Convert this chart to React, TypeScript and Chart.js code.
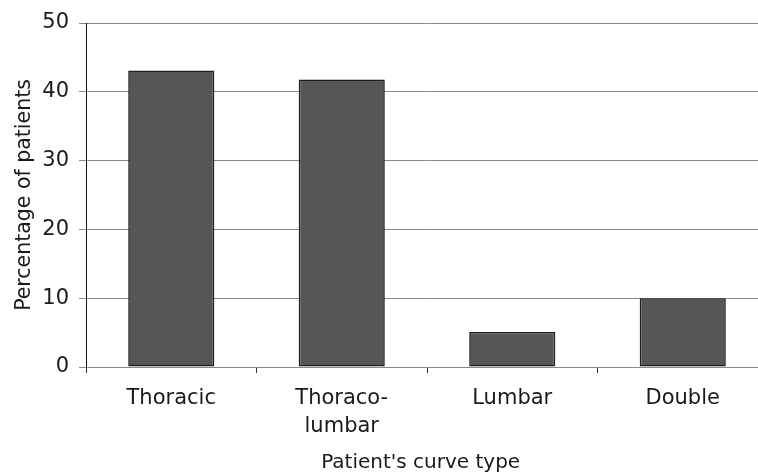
import React, { useEffect, useRef } from "react";
import { Chart, registerables } from "chart.js";

Chart.register(...registerables);

const categories: (string | string[])[] = ["Thoracic", ["Thoraco-", "lumbar"], "Lumbar", "Double"];
const percentages: number[] = [43.1, 41.8, 5.1, 10.0];
const yTicks: number[] = [0, 10, 20, 30, 40, 50];
const xTitle = "Patient's curve type";
const yTitle = "Percentage of patients";

const FONT = "'DejaVu Sans', Verdana, sans-serif";

export default function App() {
  const ref = useRef<HTMLCanvasElement | null>(null);
  useEffect(() => {
    if (!ref.current) return;
    const chart = new Chart(ref.current, {
      type: "bar",
      data: {
        labels: categories,
        datasets: [
          {
            data: percentages,
            backgroundColor: "#555658",
            borderColor: "#1e1e1e",
            borderWidth: 1.6,
            borderSkipped: false,
            categoryPercentage: 1,
            barPercentage: 0.505,
          },
        ],
      },
      options: {
        responsive: false,
        animation: false,
        layout: { padding: { left: 0, right: 0, top: 23, bottom: 0 } },
        plugins: { legend: { display: false }, tooltip: { enabled: false } },
        scales: {
          x: {
            grid: {
              display: true,
              offset: true,
              drawOnChartArea: false,
              drawTicks: true,
              tickLength: 6,
              tickColor: "#333333",
            },
            border: { display: true, color: "#8a8a8a", width: 1 },
            ticks: {
              color: "#1a1a1a",
              font: { family: FONT, size: 21, lineHeight: 1.35 },
              padding: 11,
              maxRotation: 0,
              autoSkip: false,
            },
            title: {
              display: true,
              text: xTitle + "  ",
              color: "#1a1a1a",
              font: { family: FONT, size: 20, lineHeight: 0.95 },
              padding: { top: 0, bottom: 0 },
            },
            afterFit: (scale: any) => {
              scale.height = 105;
            },
          },
          y: {
            min: 0,
            max: 50,
            afterBuildTicks: (scale: any) => {
              scale.ticks = yTicks.map((v) => ({ value: v }));
            },
            grid: {
              color: "#8a8a8a",
              lineWidth: 1,
              drawTicks: true,
              tickLength: 7,
              tickColor: "#8a8a8a",
            },
            border: { display: true, color: "#111111", width: 1 },
            ticks: {
              color: "#1a1a1a",
              font: { family: FONT, size: 21 },
              padding: 10,
            },
            title: {
              display: true,
              text: yTitle,
              color: "#1a1a1a",
              font: { family: FONT, size: 20.5, lineHeight: 1.2 },
              padding: { top: 12, bottom: 0 },
            },
            afterFit: (scale: any) => {
              scale.width = 86;
            },
          },
        },
      },
    });
    return () => chart.destroy();
  }, []);
  return (
    <div style={{ position: "absolute", left: 0, top: 0, width: 758, height: 472, overflow: "hidden", background: "#fff" }}>
      <canvas ref={ref} width={768} height={472} style={{ display: "block" }} />
    </div>
  );
}
